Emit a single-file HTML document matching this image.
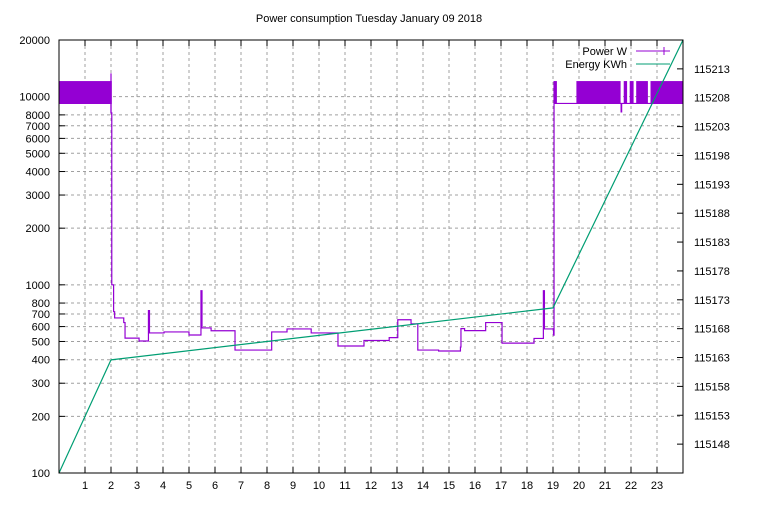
<!DOCTYPE html>
<html><head><meta charset="utf-8"><style>
body{margin:0;background:#fff;}
svg{font-family:"Liberation Sans",sans-serif;font-size:11px;}
</style></head><body>
<svg id="c" width="768" height="500">
<text x="369" y="22" text-anchor="middle">Power consumption Tuesday January 09 2018</text>
</svg>
<script>
// data
const xTicks=[1,2,3,4,5,6,7,8,9,10,11,12,13,14,15,16,17,18,19,20,21,22,23];
const yTicks=[100,200,300,400,500,600,700,800,1000,2000,3000,4000,5000,6000,7000,8000,10000,20000];
const y2Ticks=[115148,115153,115158,115163,115168,115173,115178,115183,115188,115193,115198,115203,115208,115213];
const powerTimes=[2.00,2.03,2.10,2.14,2.49,2.54,3.08,3.44,3.48,4.04,5.00,5.46,5.50,5.85,6.77,8.18,8.77,9.70,10.73,11.73,12.70,13.03,13.54,13.80,14.60,15.44,15.46,15.60,16.41,17.04,18.27,18.63,18.67,19.02,19.04];
const powerWatts=[8200,1000,720,667,630,521,503,730,555,562,541,930,590,570,450,562,583,555,473,506,524,652,620,450,445,467,585,571,630,490,519,930,583,540,12100];
const bandStarts=[0,19.04,19.9,21.72,21.95,22.2,22.75];
const bandEnds=[2.03,19.15,21.6,21.85,22.1,22.65,24];
const bandLow=[9140,9140,9140,9140,9140,9140,9140];
const bandHigh=[12100,12100,12100,12100,12100,12100,12100];
const idleTimes=[19.04,21.6,21.62,21.64,24];
const idleWatts=[9200,9200,8300,9200,9200];
const energyTimes=[0,2,19,24];
const energyKwh=[115143,115162.6,115171.6,115218];

const L=59,R=683,T=40,B=473;
const X=t=>L+(R-L)*t/24;
const Y=w=>B-(B-T)*(Math.log10(w)-2)/Math.log10(200);
const Y2=v=>B-(B-T)*(v-115143)/75;
const svg=document.getElementById('c');
const NS='http://www.w3.org/2000/svg';
function mk(tag,attrs,parent){const e=document.createElementNS(NS,tag);for(const k in attrs)e.setAttribute(k,attrs[k]);(parent||svg).appendChild(e);return e;}

// grid
const grid=mk('g',{});


xTicks.forEach(t=>{mk('line',{x1:X(t),x2:X(t),y1:T,y2:B,stroke:'#a0a0a0','stroke-dasharray':'3,3'},grid);});
yTicks.forEach(w=>{if(w>100&&w<20000)mk('line',{x1:L,x2:R,y1:Y(w),y2:Y(w),stroke:'#a0a0a0','stroke-dasharray':'3,3'},grid);});

// axes labels
xTicks.forEach(t=>{
 const tx=mk('text',{x:X(t),y:B+16,'text-anchor':'middle'});tx.textContent=t;
 
 
 mk('line',{x1:X(t),x2:X(t),y1:B,y2:B-6,stroke:'#000'});
 mk('line',{x1:X(t),x2:X(t),y1:T,y2:T+6,stroke:'#000'});
});
yTicks.forEach(w=>{
 const tx=mk('text',{x:L-9,y:Y(w)+4,'text-anchor':'end'});tx.textContent=w;
 
 
 mk('line',{x1:L,x2:L+6,y1:Y(w),y2:Y(w),stroke:'#000'});
});
y2Ticks.forEach(v=>{
 const tx=mk('text',{x:694,y:Y2(v)+4});tx.textContent=v;
 
 
 mk('line',{x1:R,x2:R-6,y1:Y2(v),y2:Y2(v),stroke:'#000'});
});

// power bands
const pc='#9400d3';
bandStarts.forEach((s,i)=>{
 const r=mk('rect',{x:X(s),y:Y(bandHigh[i]),width:X(bandEnds[i])-X(s),height:Y(bandLow[i])-Y(bandHigh[i]),fill:pc});
 
 
});
let d='';
idleTimes.forEach((t,i)=>{d+=(i?'H'+X(t)+'V':'M'+X(t)+','+Y(idleWatts[i])+'V')+Y(idleWatts[i]);});
const idle=mk('path',{d:d,fill:'none',stroke:pc,'stroke-width':1.2});


// spikes at 2.0h
mk('line',{x1:X(2.0),x2:X(2.0),y1:Y(13300),y2:Y(8200),stroke:pc,'stroke-width':1.2});
// power step line
d='M'+X(powerTimes[0])+','+Y(12100);
powerTimes.forEach((t,i)=>{d+='H'+X(t)+'V'+Y(powerWatts[i]);});
const pw=mk('path',{d:d,fill:'none',stroke:pc,'stroke-width':1.2});



// energy line
d='';energyTimes.forEach((t,i)=>{d+=(i?'L':'M')+X(t)+','+Y2(energyKwh[i]);});
const en=mk('path',{d:d,fill:'none',stroke:'#009e73','stroke-width':1.2});



// border
mk('rect',{x:L,y:T,width:R-L,height:B-T,fill:'none',stroke:'#000'});

// legend
const lg=mk('g',{});


const t1=mk('text',{x:627,y:55,'text-anchor':'end'},lg);t1.textContent='Power W';
mk('line',{x1:636,x2:670,y1:51,y2:51,stroke:pc},lg);
mk('line',{x1:664,x2:664,y1:47,y2:55,stroke:pc},lg);
const t2=mk('text',{x:627,y:68,'text-anchor':'end'},lg);t2.textContent='Energy KWh';
mk('line',{x1:636,x2:670,y1:64,y2:64,stroke:'#009e73'},lg);
</script>
</body></html>
